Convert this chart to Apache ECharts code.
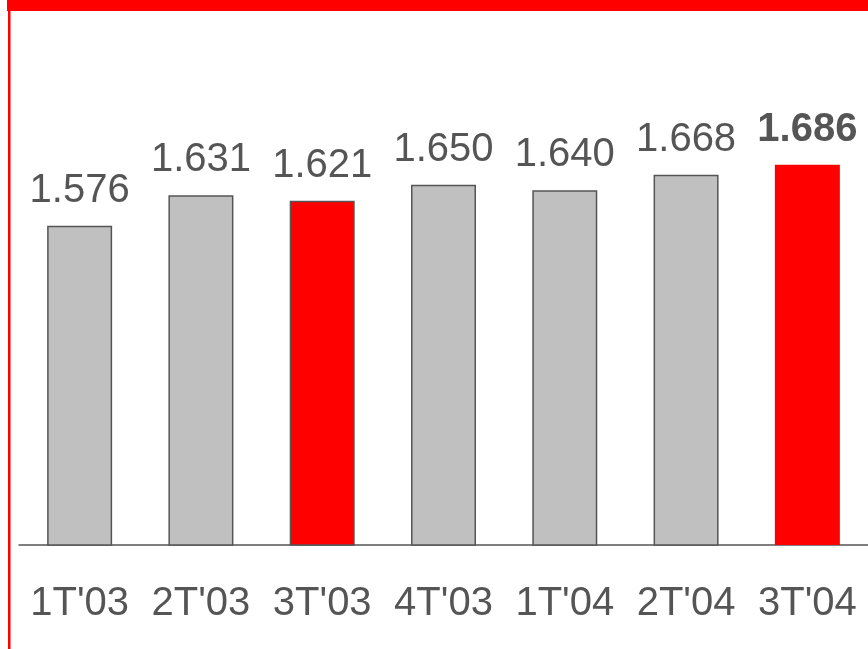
<!DOCTYPE html>
<html>
<head>
<meta charset="utf-8">
<script src="https://cdn.jsdelivr.net/npm/echarts@6/dist/echarts.min.js"></script>
<style>
  html, body { margin: 0; padding: 0; background: #fff; }
  #chart { width: 868px; height: 649px; }
</style>
</head>
<body>
<div id="chart"></div>
<script>
var categories = ["1T'03", "2T'03", "3T'03", "4T'03", "1T'04", "2T'04", "3T'04"];
var values = [1.576, 1.631, 1.621, 1.650, 1.640, 1.668, 1.686];
var labels = ['1.576', '1.631', '1.621', '1.650', '1.640', '1.668', '1.686'];
var highlighted = [false, false, true, false, false, false, true];

var grey = '#c0c0c0';
var red = '#ff0000';
var textColor = '#555555';

var seriesData = values.map(function (v, i) {
    var last = i === values.length - 1;
    return {
        value: v,
        itemStyle: {
            color: highlighted[i] ? red : grey,
            borderColor: last ? red : '#555555',
            borderWidth: last ? 0 : 1.5
        },
        label: {
            fontWeight: last ? 'bold' : 'normal'
        }
    };
});

var myChart = echarts.init(document.getElementById('chart'));
var option = {
    backgroundColor: '#ffffff',
    animation: false,
    grid: {
        left: 19,
        top: 157,
        width: 856,
        bottom: 104
    },
    xAxis: {
        type: 'category',
        data: categories,
        axisTick: { show: false },
        axisLine: { lineStyle: { color: '#555555', width: 1.5 } },
        axisLabel: {
            color: textColor,
            fontSize: 40,
            fontFamily: 'Liberation Sans, Arial, sans-serif',
            margin: 39,
            interval: 0
        }
    },
    yAxis: {
        type: 'value',
        min: 1.0,
        max: 1.7,
        show: false,
        splitLine: { show: false }
    },
    series: [{
        type: 'bar',
        barWidth: 65,
        data: seriesData,
        label: {
            show: true,
            position: 'top',
            distance: 15,
            color: textColor,
            fontSize: 40,
            fontFamily: 'Liberation Sans, Arial, sans-serif',
            formatter: function (p) { return labels[p.dataIndex]; }
        }
    }],
    graphic: [
        {
            type: 'rect',
            shape: { x: 7, y: 0, width: 861, height: 11 },
            style: { fill: red }
        },
        {
            type: 'rect',
            shape: { x: 8, y: 0, width: 2.5, height: 649 },
            style: { fill: red }
        }
    ]
};
myChart.setOption(option);
</script>
</body>
</html>
